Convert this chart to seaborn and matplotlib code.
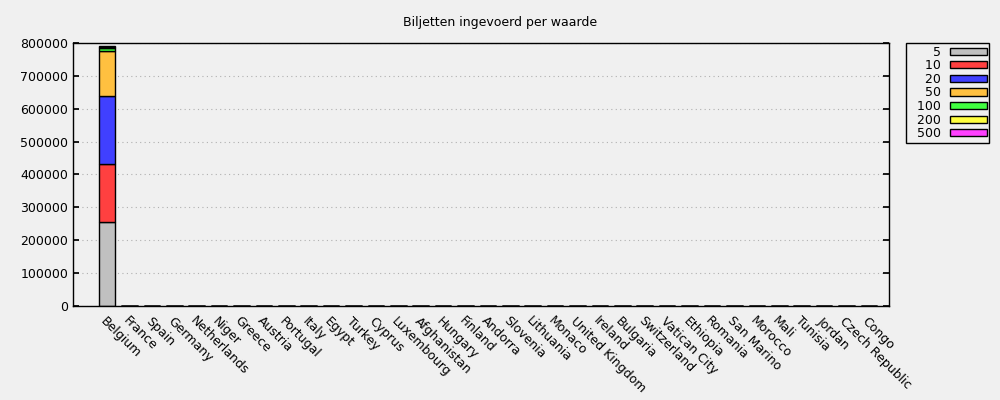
import matplotlib
matplotlib.use("Agg")
import matplotlib.pyplot as plt
import seaborn as sns
import numpy as np
import pandas as pd

countries = ["Belgium", "France", "Spain", "Germany", "Netherlands", "Niger", "Greece",
             "Austria", "Portugal", "Italy", "Egypt", "Turkey", "Cyprus", "Luxembourg",
             "Afghanistan", "Hungary", "Finland", "Andorra", "Slovenia", "Lithuania",
             "Monaco", "United Kingdom", "Ireland", "Bulgaria", "Switzerland",
             "Vatican City", "Ethiopia", "Romania", "San Marino", "Morocco", "Mali",
             "Tunisia", "Jordan", "Czech Republic", "Congo"]

denominations = ["5", "10", "20", "50", "100", "200", "500"]

n_other = len(countries) - 1
v5 = [255000] + [120] * n_other
v10 = [177000] + [150] * n_other
v20 = [207000] + [110] * n_other
v50 = [136000] + [90] * n_other
v100 = [9500] + [60] * n_other
v200 = [3500] + [20] * n_other
v500 = [1500] + [30] * n_other

series = [v5, v10, v20, v50, v100, v200, v500]
colors = ["#c0c0c0", "#ff4040", "#4040ff", "#ffc040", "#40ff40", "#ffff40", "#ff40ff"]

sns.set_theme(style="ticks")
plt.rcParams['font.family'] = ['DejaVu Sans']
plt.rcParams['text.color'] = 'black'
plt.rcParams['xtick.color'] = 'black'
plt.rcParams['ytick.color'] = 'black'

fig = plt.figure(figsize=(10, 4), dpi=100, facecolor="#f0f0f0")
ax = fig.add_axes([0.073, 0.235, 0.816, 0.6575])
ax.set_facecolor("#f0f0f0")

bottom = np.zeros(len(countries))
for den, vals, col in zip(denominations, series, colors):
    df = pd.DataFrame({"country": countries, "value": vals})
    sns.barplot(data=df, x="country", y="value", bottom=bottom, color=col,
                edgecolor="black", linewidth=1, width=0.74, ax=ax,
                saturation=1, errorbar=None, label=den)
    bottom = bottom + np.array(vals)

ax.set_ylim(0, 800000)
ax.set_xlim(-1.52, len(countries) - 1 + 0.9)
ax.set_yticks(range(0, 800001, 100000))
ax.set_yticklabels([str(v) for v in range(0, 800001, 100000)], fontsize=9)
ax.set_xlabel("")
ax.set_ylabel("")
ax.set_xticks(range(len(countries)))
ax.set_xticklabels(countries, rotation=-45, ha="left", rotation_mode="anchor", fontsize=9)
ax.tick_params(axis="x", length=0, pad=6)
ax.tick_params(axis="y", direction="in", length=4, right=True, left=True)
ax.yaxis.grid(True, linestyle=(0, (1, 3)), color="#b0b0b0", linewidth=0.8)
ax.set_axisbelow(True)
for s in ax.spines.values():
    s.set_color("black")
    s.set_linewidth(1)
    s.set_visible(True)

fig.suptitle("Biljetten ingevoerd per waarde", fontsize=9, y=0.96, color="black")

handles, labels = ax.get_legend_handles_labels()
labels = ["  " + lab for lab in labels]
leg = ax.legend(handles, labels, loc="upper left", bbox_to_anchor=(1.021, 1.0),
                borderaxespad=0, markerfirst=False, fontsize=9, frameon=True,
                fancybox=False, edgecolor="black", handlelength=2.95,
                handleheight=0.5, labelspacing=0.05, borderpad=0.2,
                handletextpad=0.75, facecolor="#f0f0f0", framealpha=1)
leg.get_frame().set_linewidth(1)
for t in leg.get_texts():
    t.set_ha("right")

fig.savefig("out.png", dpi=100, facecolor="#f0f0f0")
